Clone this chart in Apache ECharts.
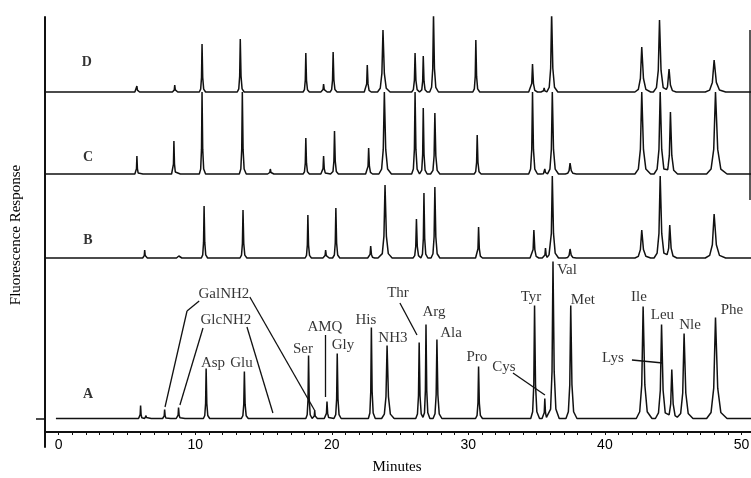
<!DOCTYPE html>
<html><head><meta charset="utf-8">
<script src="https://cdn.jsdelivr.net/npm/echarts@6/dist/echarts.min.js"></script>
<style>html,body{margin:0;padding:0;background:#fff}#c{width:751px;height:478px}</style>
</head><body><div id="c"></div>
<script>
// ---- Data ----
const peakKeys   = ['p6','p6b','GalNH2','GlcNH2','Asp','Glu','p15','Ser','p18','AMQ','Gly','His','NH3','Thr','Arg','Ala','Pro','Tyr','Cys','Val','Met','Ile','Leu','Lys','Nle','Phe'];
const peakWidths = [0.15,0.1,0.15,0.17,0.2,0.22,0.2,0.2,0.15,0.2,0.22,0.22,0.4,0.25,0.22,0.28,0.22,0.28,0.2,0.35,0.35,0.5,0.45,0.4,0.5,0.65];

const timesA   = [6.0,6.4,7.76,8.78,10.8,13.6,null,18.3,18.75,19.65,20.4,22.9,24.05,26.4,26.9,27.7,30.75,34.85,35.6,36.2,37.5,42.8,44.15,44.9,45.8,48.1];
const heightsA = [13,3,9,11,50,47,null,63,8,17,65,91,73,76,94,79,52,113,20,157,113,112,94,49,85,101];

const timesB   = [6.3,null,null,8.8,10.65,13.5,null,18.25,null,19.55,20.3,22.85,23.9,26.2,26.75,27.55,30.75,34.8,35.65,36.15,37.45,42.7,44.05,44.75,null,48.0];
const heightsB = [8,null,null,2,52,48,null,43,null,8,50,12,73,39,65,71,31,28,10,82,9,28,82,33,null,44];

const timesC   = [5.73,null,null,8.44,10.5,13.45,15.5,18.1,null,19.4,20.2,22.7,23.85,26.1,26.7,27.55,30.65,34.7,35.6,36.15,37.45,42.7,44.05,44.8,null,48.1];
const heightsC = [18,null,null,33,82,82,5,36,null,18,43,26,82,82,66,61,39,82,5,82,11,82,82,62,null,82];

const timesD   = [5.73,null,null,8.5,10.5,13.3,null,18.1,null,19.4,20.1,22.6,23.75,26.1,26.7,27.45,30.55,34.7,35.55,36.1,null,42.7,44.0,44.7,null,48.0];
const heightsD = [6,null,null,7,48,53,null,39,null,8,40,27,62,39,36,78,52,28,4,79,null,45,72,23,null,32];

const traceNames = ['A','B','C','D'];

// peak labels on trace A: text, time (min), response
const labelText = ['GalNH2','GlcNH2','Asp','Glu','Ser','AMQ','Gly','His','NH3','Thr','Arg','Ala','Pro','Cys','Tyr','Val','Met','Ile','Leu','Nle','Lys','Phe'];
const labelTime = [12.1,12.25,11.3,13.39,17.89,19.5,20.82,22.5,24.48,24.85,27.48,28.73,30.63,32.6,34.59,37.22,38.39,42.49,44.21,46.23,40.59,49.3];
const labelResp = [138,112,69,69,83,105,87,112,94,139,120,99,75,65,135,162,132,135,117,107,74,122];

// arrows: from [time, resp] -> to [time, resp]
const arrowFrom = [[10.29,131],[9.40,121],[14.0,135],[10.57,104],[13.79,105],[19.5,97],[24.99,129],[33.27,59],[41.98,72]];
const arrowTo   = [[9.40,121],[7.79,25],[18.77,21],[8.88,27],[15.69,19],[19.5,35],[26.24,97],[35.61,37],[44.25,69]];
const arrowHead = [false,true,true,true,true,true,true,true,true];

// ---- layout (not data) ----
const traceOffset = {A:13.5, B:174, C:258, D:340};
const traceStart  = {A:-0.2, B:-1, C:-1, D:-1};
const letterPos   = {A:[2.15,38], B:[2.15,192], C:[2.15,275], D:[2.07,370]};
const X_MIN = -1, X_MAX = 50.7;

// peak outline (relative to width / height); last entry is an extra baseline vertex
const shapeT = [-1, -0.5, -0.2, 0, 0.25, 0.6, 1.3];
const shapeH = [0, 0.06, 0.3, 1, 0.3, 0.06, 0];
const TAIL_PAD = 0.25; // extra baseline vertex after each peak (keeps the renderer from dropping the foot)
function shapeAt(p, x) {
  const u = (x - p.t) / p.w;
  const n = shapeT.length;
  if (!(u > shapeT[0] && u < shapeT[n-1])) return 0;
  for (let k = 0; k < n - 1; k++) {
    if (u <= shapeT[k+1]) {
      const r = (u - shapeT[k]) / (shapeT[k+1] - shapeT[k]);
      return p.h * (shapeH[k] + r * (shapeH[k+1] - shapeH[k]));
    }
  }
  return 0;
}
function buildTrace(times, heights, offset, start) {
  const peaks = [];
  times.forEach((t, i) => { if (t != null && heights[i] != null) peaks.push({t: t, h: heights[i], w: peakWidths[i]}); });
  const xs = [start, X_MAX];
  peaks.forEach(p => {
    shapeT.forEach(f => xs.push(Math.round((p.t + f * p.w) * 10000) / 10000));
    xs.push(Math.round((p.t + shapeT[shapeT.length - 1] * p.w + TAIL_PAD) * 10000) / 10000);
  });
  const sorted = Array.from(new Set(xs)).filter(x => x >= start && x <= X_MAX).sort((a, b) => a - b);
  return sorted.map(x => [x, offset + peaks.reduce((s, p) => s + shapeAt(p, x), 0)]);
}
const traceData = {
  A: buildTrace(timesA, heightsA, traceOffset.A, traceStart.A),
  B: buildTrace(timesB, heightsB, traceOffset.B, traceStart.B),
  C: buildTrace(timesC, heightsC, traceOffset.C, traceStart.C),
  D: buildTrace(timesD, heightsD, traceOffset.D, traceStart.D)
};

const INK = '#000';
const SERIF = '"Liberation Serif", "DejaVu Serif", serif';

const lineSeries = traceNames.map(n => ({
  type: 'line', name: n, data: traceData[n], showSymbol: false, smooth: false,
  lineStyle: {color: '#111', width: 1.5}, silent: true, z: 2
}));

const labelData = labelText.map((s, i) => [labelTime[i], labelResp[i], s]);
const letterData = traceNames.map(n => [letterPos[n][0], letterPos[n][1], n]);

const markData = arrowFrom.map((f, i) => [
  {coord: f, symbol: 'none'},
  {coord: arrowTo[i], symbol: arrowHead[i] ? 'arrow' : 'none'}
]);

const option = {
  animation: false,
  backgroundColor: '#fff',
  grid: {left: 45, right: 0, top: 17, bottom: 31, outerBoundsMode: 'none', containLabel: false},
  xAxis: {
    type: 'value', min: X_MIN, max: X_MAX, interval: 1, offset: -15,
    axisLine: {onZero: false, lineStyle: {color: '#111', width: 2}},
    axisTick: {show: true, length: 3, lineStyle: {color: '#111', width: 1}},
    axisLabel: {formatter: v => (v % 10 === 0 ? String(v) : ''), fontFamily: '"Liberation Sans", Arial, sans-serif', fontSize: 14, color: INK, margin: 6},
    splitLine: {show: false}
  },
  yAxis: {
    type: 'value', min: -15, max: 415,
    axisLine: {show: true, onZero: false, lineStyle: {color: '#111', width: 2}},
    axisTick: {show: true, customValues: [traceOffset.A], length: 9, lineStyle: {color: '#111', width: 1.5}},
    axisLabel: {show: false},
    splitLine: {show: false}
  },
  graphic: [
    {
      type: 'text', x: 16, y: 235, rotation: Math.PI / 2,
      style: {text: 'Fluorescence Response', font: '15px ' + SERIF, fill: INK, align: 'center', verticalAlign: 'middle'}
    },
    {
      type: 'text', x: 397, y: 467,
      style: {text: 'Minutes', font: '15px ' + SERIF, fill: INK, align: 'center', verticalAlign: 'middle'}
    },
    {
      type: 'line', shape: {x1: 750, y1: 30, x2: 750, y2: 200},
      style: {stroke: '#222', lineWidth: 1.5}
    }
  ],
  series: [
    ...lineSeries,
    {
      type: 'scatter', data: labelData, symbolSize: 0, silent: true, z: 5,
      itemStyle: {color: 'transparent'},
      label: {show: true, position: 'inside', formatter: p => p.data[2], fontFamily: SERIF, fontSize: 15, color: INK},
      markLine: {
        silent: true, animation: false, symbol: ['none', 'arrow'], symbolSize: [0, 10],
        label: {show: false}, lineStyle: {color: '#111', width: 1.3, type: 'solid'},
        emphasis: {disabled: true}, data: markData
      }
    },
    {
      type: 'scatter', data: letterData, symbolSize: 0, silent: true, z: 5,
      itemStyle: {color: 'transparent'},
      label: {show: true, position: 'inside', formatter: p => p.data[2], fontFamily: SERIF, fontSize: 14, fontWeight: 'bold', color: INK}
    }
  ]
};
const chart = echarts.init(document.getElementById('c'), null, {renderer: 'canvas'});
chart.setOption(option);
</script>
</body></html>
